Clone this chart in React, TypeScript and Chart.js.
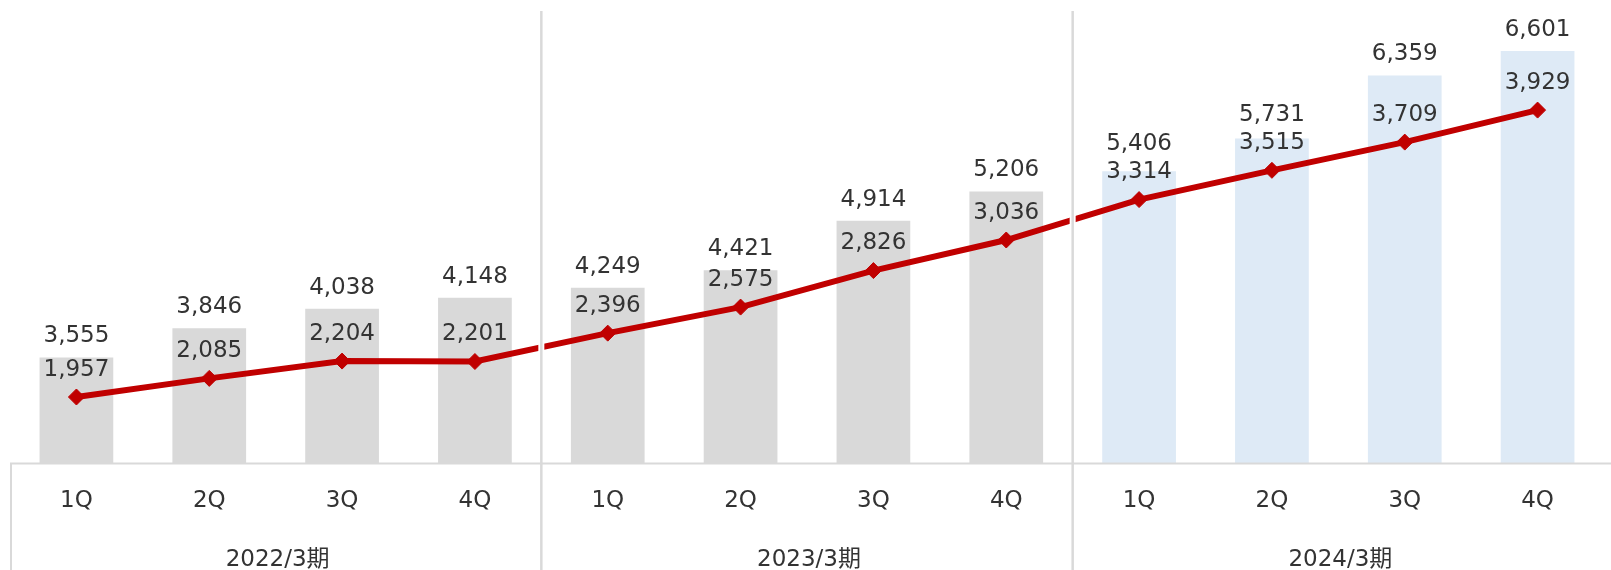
import React, { useEffect, useRef } from "react";
import { Chart, registerables } from "chart.js";

Chart.register(...registerables);

const quarters = ["1Q", "2Q", "3Q", "4Q", "1Q", "2Q", "3Q", "4Q", "1Q", "2Q", "3Q", "4Q"];
const fiscalYears = ["2022/3期", "2023/3期", "2024/3期"];
const totals = [3555, 3846, 4038, 4148, 4249, 4421, 4914, 5206, 5406, 5731, 6359, 6601];
const profits = [1957, 2085, 2204, 2201, 2396, 2575, 2826, 3036, 3314, 3515, 3709, 3929];

const GRAY = "#d9d9d9";
const BLUE = "#deeaf6";
const RED = "#c00000";
const TEXT = "#333333";
const FONT = '"DejaVu Sans", "Noto Sans CJK JP", sans-serif';

const fmt = (v: number) => v.toLocaleString("en-US");

const overlay = {
  id: "overlay",
  afterDatasetsDraw(chart: any) {
    const { ctx, chartArea, scales } = chart;
    const x = scales.x;
    const y = scales.y;
    const y1 = scales.y1;
    const H = chart.height;
    const W = chart.width;
    const groupSize = quarters.length / fiscalYears.length;
    ctx.save();

    // axis box
    ctx.strokeStyle = GRAY;
    ctx.lineWidth = 2;
    ctx.beginPath();
    ctx.moveTo(chartArea.left, chartArea.bottom);
    ctx.lineTo(W, chartArea.bottom);
    ctx.moveTo(chartArea.left + 1, chartArea.bottom);
    ctx.lineTo(chartArea.left + 1, H);
    ctx.stroke();

    // separators
    for (let g = 1; g < fiscalYears.length; g++) {
      const idx = g * groupSize;
      const sx = (x.getPixelForValue(idx - 1) + x.getPixelForValue(idx)) / 2;
      ctx.strokeStyle = "#ffffff";
      ctx.lineWidth = 6;
      ctx.beginPath();
      ctx.moveTo(sx, chartArea.top);
      ctx.lineTo(sx, chartArea.bottom - 2);
      ctx.stroke();
      ctx.strokeStyle = GRAY;
      ctx.lineWidth = 2.5;
      ctx.beginPath();
      ctx.moveTo(sx, chartArea.top);
      ctx.lineTo(sx, H);
      ctx.stroke();
    }

    ctx.fillStyle = TEXT;
    ctx.textAlign = "center";
    ctx.textBaseline = "alphabetic";

    // data labels
    const size = 23;
    ctx.font = `${size}px ${FONT}`;
    const capHalf = 0.365 * size;
    for (let i = 0; i < totals.length; i++) {
      const cx = x.getPixelForValue(i);
      const lineY = y1.getPixelForValue(profits[i]);
      const lineCenter = lineY - 29.5;
      let barCenter = y.getPixelForValue(totals[i]) - 23.5;
      if (lineCenter - barCenter < 28) barCenter = lineCenter - 28;
      ctx.fillText(fmt(totals[i]), cx, barCenter + capHalf);
      ctx.fillText(fmt(profits[i]), cx, lineCenter + capHalf);
    }

    // quarter labels
    ctx.font = `23px ${FONT}`;
    for (let i = 0; i < quarters.length; i++) {
      ctx.fillText(quarters[i], x.getPixelForValue(i), 506.5);
    }

    // fiscal year labels
    ctx.font = `23px ${FONT}`;
    for (let g = 0; g < fiscalYears.length; g++) {
      const a = g * groupSize;
      const b = a + groupSize - 1;
      const half = (x.getPixelForValue(1) - x.getPixelForValue(0)) / 2;
      const cx = (x.getPixelForValue(a) - half + x.getPixelForValue(b) + half) / 2;
      ctx.fillText(fiscalYears[g], cx + 2, 565.5);
    }
    ctx.restore();
  },
};

export default function App() {
  const ref = useRef<HTMLCanvasElement | null>(null);

  useEffect(() => {
    document.documentElement.style.overflow = "hidden";
    document.body.style.margin = "0";
    document.body.style.overflow = "hidden";
    if (!ref.current) return;
    const groupSize = quarters.length / fiscalYears.length;
    const barColors = totals.map((_, i) => (Math.floor(i / groupSize) === fiscalYears.length - 1 ? BLUE : GRAY));
    const chart = new Chart(ref.current, {
      type: "bar",
      data: {
        labels: quarters,
        datasets: [
          {
            type: "line",
            label: "profit",
            data: profits,
            yAxisID: "y1",
            borderColor: RED,
            backgroundColor: RED,
            borderWidth: 6,
            pointStyle: "rectRot",
            pointRadius: 8,
            pointBorderWidth: 1,
            pointBackgroundColor: RED,
            pointBorderColor: RED,
            tension: 0,
            order: 0,
          } as any,
          {
            type: "bar",
            label: "total",
            data: totals,
            yAxisID: "y",
            backgroundColor: barColors,
            borderWidth: 0,
            barPercentage: 0.555,
            categoryPercentage: 1,
            order: 1,
          },
        ],
      },
      options: {
        animation: false,
        responsive: true,
        maintainAspectRatio: false,
        layout: { padding: { left: 10, right: 0, top: 11, bottom: 106.5 } },
        plugins: {
          legend: { display: false },
          tooltip: { enabled: false },
        },
        scales: {
          x: { display: false, grid: { display: false } },
          y: { display: false, min: 2500, max: 7000 },
          y1: { display: false, min: 1500, max: 4610, position: "right" },
        },
      },
      plugins: [overlay],
    });
    return () => chart.destroy();
  }, []);

  return (
    <div style={{ width: "1613px", height: "570px", position: "relative" }}>
      <canvas ref={ref} />
    </div>
  );
}
